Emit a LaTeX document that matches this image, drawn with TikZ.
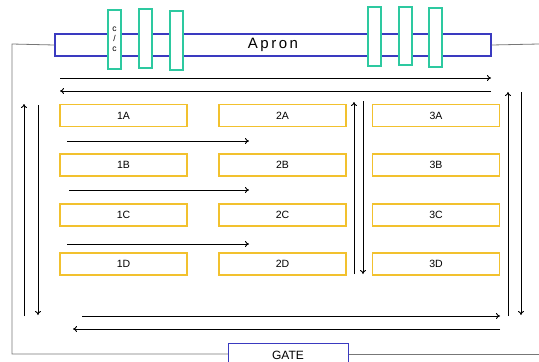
\documentclass[tikz,border=0pt]{standalone}
\usepackage{fontspec}
\setmainfont{Liberation Sans}
\usetikzlibrary{arrows.meta}
\definecolor{ybox}{HTML}{F2C12E}
\definecolor{gbar}{HTML}{2DC9A0}
\definecolor{bbox}{HTML}{3A3AC0}
\definecolor{gline}{HTML}{777777}
\tikzset{
  stand/.style={draw=ybox, line width=1.3pt, minimum width=127pt, minimum height=22pt, inner sep=0pt, font=\fontsize{10.5}{11}\selectfont},
  gatebar/.style={draw=gbar, fill=white, line width=1.5pt, inner sep=0pt, minimum width=13pt, minimum height=59pt},
  road/.style={line width=0.9pt, -{To[length=4pt,width=6pt]}},
  outer/.style={draw=gline, line width=0.8pt}
}
\begin{document}
\begin{tikzpicture}[x=1pt,y=-1pt]
\useasboundingbox (0,0) rectangle (539,362);
% outer gray boundary
\coordinate (oTL) at (12,44);
\coordinate (oBL) at (12,354);
\coordinate (oR1) at (539,44);
\coordinate (oR2) at (539,354);
% Apron
\node[draw=bbox, line width=1.2pt, fill=white, minimum width=436pt, minimum height=22pt, inner sep=0pt, font=\fontsize{15}{16}\selectfont] (apron) at (273,45) {A\,p\,r\,o\,n};
% Gate
\node[draw=bbox, line width=1.2pt, fill=white, minimum width=120pt, minimum height=24pt, inner sep=0pt, anchor=north west] (gate) at (228,343) {};
\node[font=\fontsize{12}{13}\selectfont, anchor=base] (gatetxt) at (288,359) {GATE};
\draw[outer] (apron.west) -- (oTL) -- (oBL) -- (gate.west |- oBL);
\draw[outer] (apron.east) -- (oR1);
\draw[outer] (gate.east |- oR2) -- (oR2);
% green bars
\node[gatebar, align=center, font=\fontsize{8.5}{10}\selectfont] (g1) at (114.5,39.5) {c\\/\\c};
\node[gatebar] (g2) at (145.5,38.5) {};
\node[gatebar] (g3) at (176.5,40.5) {};
\node[gatebar] (g4) at (374.5,36.5) {};
\node[gatebar, minimum height=58pt] (g5) at (405.5,36) {};
\node[gatebar] (g6) at (435.5,37.5) {};
% stands
\foreach \c/\x in {1/123.5,2/282.5,3/436} {
  \node[stand] (s\c A) at (\x,115.5) {\c A};
  \node[stand] (s\c B) at (\x,165) {\c B};
  \node[stand] (s\c C) at (\x,215) {\c C};
  \node[stand] (s\c D) at (\x,264) {\c D};
}
% top roads
\coordinate (t1a) at (60,78); \coordinate (t1b) at (491,78);
\coordinate (t2a) at (491,91); \coordinate (t2b) at (60,91);
\draw[road] (t1a) -- (t1b);
\draw[road] (t2a) -- (t2b);
% bottom roads
\coordinate (b1a) at (82,316); \coordinate (b1b) at (500,316);
\coordinate (b2a) at (500,329); \coordinate (b2b) at (73,329);
\draw[road] (b1a) -- (b1b);
\draw[road] (b2a) -- (b2b);
% left verticals
\coordinate (l1a) at (24,316); \coordinate (l1b) at (24,104);
\coordinate (l2a) at (38,105); \coordinate (l2b) at (38,315);
\draw[road] (l1a) -- (l1b);
\draw[road] (l2a) -- (l2b);
% right verticals
\coordinate (r1a) at (508,316); \coordinate (r1b) at (508,92);
\coordinate (r2a) at (521,92); \coordinate (r2b) at (521,315);
\draw[road] (r1a) -- (r1b);
\draw[road] (r2a) -- (r2b);
% middle verticals
\coordinate (m1a) at (354,274); \coordinate (m1b) at (354,102);
\coordinate (m2a) at (363,101); \coordinate (m2b) at (363,274);
\draw[road] (m1a) -- (m1b);
\draw[road] (m2a) -- (m2b);
% inner roads
\coordinate (i1a) at (67,141); \coordinate (i1b) at (249,141);
\coordinate (i2a) at (69,190); \coordinate (i2b) at (249,190);
\coordinate (i3a) at (67,244); \coordinate (i3b) at (249,244);
\draw[road] (i1a) -- (i1b);
\draw[road] (i2a) -- (i2b);
\draw[road] (i3a) -- (i3b);
\end{tikzpicture}
\end{document}
